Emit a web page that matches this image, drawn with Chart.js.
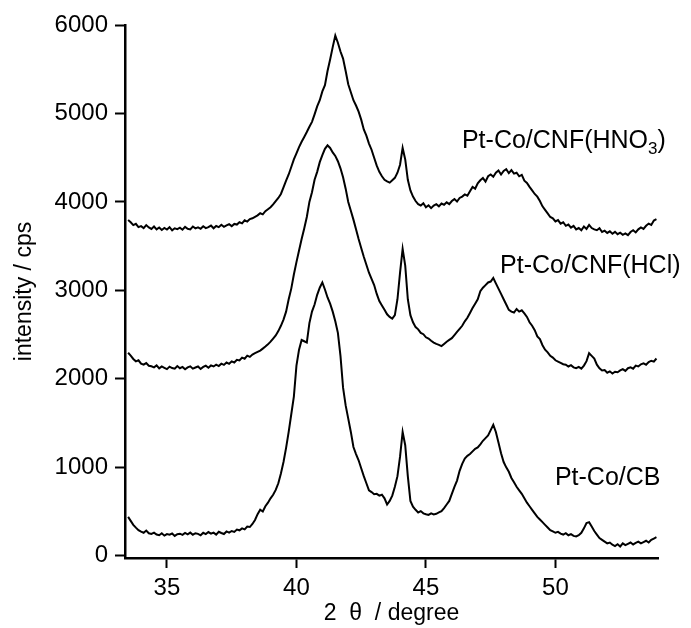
<!DOCTYPE html>
<html>
<head>
<meta charset="utf-8">
<title>XRD patterns</title>
<script src="https://cdn.jsdelivr.net/npm/chart.js@4/dist/chart.umd.min.js"></script>
<style>
  html, body { margin: 0; padding: 0; background: #fff; }
  #wrap { width: 691px; height: 628px; position: relative; }
</style>
</head>
<body>
<div id="wrap"><canvas id="xrd"></canvas></div>
<script>
// scan grid: 2θ from 33.5° upward in 0.1° steps
const THETA_START = 33.5;
const THETA_STEP = 0.1;

// intensity (cps), one row per degree
const hno3 = [
  3795, 3770, 3738, 3752, 3715, 3726, 3704, 3738, 3712, 3695,
  3722, 3690, 3711, 3683, 3706, 3688, 3714, 3679, 3702, 3693,
  3709, 3686, 3718, 3697, 3690, 3722, 3701, 3712, 3696, 3725,
  3704, 3716, 3733, 3702, 3728, 3715, 3742, 3719, 3736, 3748,
  3726, 3751, 3744, 3770, 3758, 3792, 3778, 3806, 3815, 3832,
  3848, 3872, 3860, 3895, 3918, 3940, 3972, 4010, 4045, 4090,
  4165, 4240, 4310, 4395, 4480, 4550, 4620, 4680, 4735, 4790,
  4850, 4905, 4990, 5080, 5150, 5250, 5320, 5480, 5610, 5750,
  5880, 5800, 5700, 5620, 5480, 5330, 5240, 5150, 5090, 5020,
  4930, 4820, 4750, 4660, 4590, 4500, 4410, 4340, 4290, 4250,
  4232, 4218, 4246, 4272, 4330, 4420, 4610, 4480, 4250, 4130,
  4060, 4010, 3975, 3960, 3985, 3940, 3962, 3930, 3958, 3975,
  3950, 3982, 3968, 3995, 3975, 4010, 4032, 4005, 4045, 4060,
  4085, 4070, 4120, 4170, 4150, 4210, 4245, 4270, 4230, 4290,
  4310, 4285, 4330, 4355, 4310, 4350, 4370, 4325, 4360, 4320,
  4330, 4290, 4305, 4240, 4215, 4170, 4130, 4090, 4060, 4010,
  3950, 3910, 3870, 3830, 3815, 3780, 3795, 3755, 3770, 3730,
  3745, 3710, 3730, 3690, 3705, 3680, 3722, 3695, 3740, 3705,
  3690, 3680, 3702, 3660, 3675, 3650, 3668, 3640, 3662, 3635,
  3652, 3628, 3645, 3625, 3660, 3680, 3655, 3690, 3712, 3695,
  3730, 3755, 3740, 3790, 3805
];

const hcl = [
  2295, 2262, 2225, 2198, 2210, 2172, 2160, 2178, 2148, 2142,
  2130, 2152, 2118, 2140, 2125, 2110, 2138, 2122, 2115, 2145,
  2120, 2135, 2108, 2130, 2142, 2115, 2128, 2140, 2112, 2135,
  2148, 2125, 2152, 2140, 2160, 2145, 2172, 2158, 2185, 2170,
  2198, 2185, 2215, 2208, 2240, 2228, 2262, 2248, 2275, 2290,
  2305, 2320, 2342, 2365, 2390, 2420, 2455, 2490, 2540, 2600,
  2670, 2760, 2900, 3020, 3180, 3320, 3450, 3580, 3700, 3830,
  4000, 4110, 4250, 4340, 4450, 4530, 4600, 4640, 4610, 4560,
  4520, 4460, 4380, 4280, 4150, 4000, 3900, 3800, 3690, 3580,
  3480, 3380, 3290, 3200, 3130, 3060, 2960, 2880, 2830, 2780,
  2730, 2700, 2680, 2720, 2900, 3200, 3470, 3280, 2900, 2720,
  2640, 2585, 2560, 2520, 2505, 2470, 2455, 2430, 2410, 2395,
  2385, 2370, 2395, 2420, 2440, 2460, 2495, 2530, 2565, 2600,
  2650, 2690, 2745, 2800, 2850, 2900, 2990, 3030, 3060, 3090,
  3100, 3140, 3080, 3020, 2960, 2900, 2840, 2780, 2760, 2750,
  2790, 2760, 2775, 2740, 2700, 2640, 2600, 2550, 2480, 2450,
  2380, 2330, 2300, 2260, 2240, 2210, 2195, 2180, 2165, 2160,
  2140, 2155, 2130, 2120, 2135, 2115, 2150, 2200, 2290, 2260,
  2230, 2160, 2120, 2095, 2100, 2070, 2085, 2060, 2080, 2075,
  2095, 2110, 2090, 2120, 2130, 2115, 2150, 2140, 2165, 2175,
  2160, 2190, 2205, 2195, 2230
];

const cb = [
  440, 395, 350, 318, 290, 272, 260, 285, 255, 248,
  262, 240, 232, 255, 228, 246, 238, 252, 225, 244,
  250, 236, 258, 242, 262, 238, 255, 248, 232, 260,
  245, 268, 250, 262, 240, 272, 258, 246, 275, 262,
  280, 270, 296, 288, 310, 298, 330, 325, 360, 405,
  470, 520, 500, 560, 600, 650, 690, 745, 820, 930,
  1060, 1220, 1400, 1600, 1800, 2150, 2330, 2440, 2425, 2410,
  2630, 2760, 2840, 2950, 3030, 3090, 3010, 2920, 2850, 2760,
  2650, 2520, 2260, 1900, 1700, 1550, 1400, 1230, 1150, 1080,
  990, 900, 820, 740, 720, 695, 700, 680, 690, 650,
  580, 620, 680, 780, 900, 1120, 1400, 1250, 900, 620,
  555, 520, 490, 505, 480, 470, 462, 480, 468, 475,
  490, 505, 540, 580, 620, 700, 780, 850, 960, 1040,
  1100, 1130, 1150, 1180, 1210, 1225, 1260, 1300, 1330, 1360,
  1420, 1480, 1400, 1280, 1160, 1060, 1000, 950, 880, 830,
  780, 740, 700, 650, 600, 560, 520, 480, 440, 410,
  380, 350, 320, 290, 275, 260, 270, 250, 240, 255,
  232, 245, 225, 218, 232, 260, 310, 370, 380, 330,
  280, 240, 200, 180, 160, 140, 150, 125, 110, 130,
  105, 140, 120, 135, 150, 128, 145, 160, 140, 155,
  170, 150, 180, 195, 210
];

const xTicks = [35, 40, 45, 50];
const yTicks = [0, 1000, 2000, 3000, 4000, 5000, 6000];

// sample names, split so the subscript can be drawn smaller
const sampleNames = [
  [{ t: "Pt-Co/CNF(HNO" }, { t: "3", sub: true }, { t: ")" }],
  [{ t: "Pt-Co/CNF(HCl)" }],
  [{ t: "Pt-Co/CB" }]
];
// where each name sits: left edge (2θ) and baseline (cps)
const nameAnchors = [
  { x: 46.39, y: 4610 },
  { x: 47.86, y: 3198 },
  { x: 49.98, y: 802 }
];

const FONT = "'Liberation Sans', Arial, Helvetica, sans-serif";

const toPoints = vals => vals.map((v, i) => ({
  x: +(THETA_START + i * THETA_STEP).toFixed(2),
  y: v
}));

const trace = vals => ({
  data: toPoints(vals),
  borderColor: "#000",
  borderWidth: 2,
  pointRadius: 0,
  tension: 0,
  fill: false
});

const sampleNamePlugin = {
  id: "sampleNames",
  afterDatasetsDraw(chart) {
    const { ctx, scales } = chart;
    ctx.save();
    ctx.fillStyle = "#000";
    ctx.textBaseline = "alphabetic";
    ctx.textAlign = "left";
    sampleNames.forEach((parts, k) => {
      let px = scales.x.getPixelForValue(nameAnchors[k].x);
      const py = scales.y.getPixelForValue(nameAnchors[k].y);
      parts.forEach(p => {
        ctx.font = (p.sub ? "17px " : "25px ") + FONT;
        ctx.fillText(p.t, px, p.sub ? py + 6 : py);
        px += ctx.measureText(p.t).width;
      });
    });
    ctx.restore();
  }
};

new Chart(document.getElementById("xrd"), {
  type: "line",
  data: { datasets: [trace(hno3), trace(hcl), trace(cb)] },
  plugins: [sampleNamePlugin],
  options: {
    responsive: true,
    maintainAspectRatio: false,
    animation: false,
    layout: { padding: { top: 25, right: 33, left: 0, bottom: 0 } },
    plugins: { legend: { display: false }, tooltip: { enabled: false } },
    scales: {
      x: {
        type: "linear",
        min: 33.38,
        max: 53.96,
        afterBuildTicks: s => { s.ticks = xTicks.map(v => ({ value: v })); },
        afterFit: s => { s.height = 70; },
        border: { display: true, color: "#000", width: 2.5 },
        grid: { drawOnChartArea: false, drawTicks: true, tickLength: 10, tickColor: "#000", tickWidth: 2 },
        ticks: { color: "#000", padding: 6, font: { family: FONT, size: 24 }, maxRotation: 0, callback: v => String(v) },
        title: { display: true, text: "2  θ  / degree", color: "#000", padding: { top: 0, bottom: 1 }, font: { family: FONT, size: 23 } }
      },
      y: {
        min: -25,
        max: 6000,
        afterBuildTicks: s => { s.ticks = yTicks.map(v => ({ value: v })); },
        afterFit: s => { s.width = 125; },
        border: { display: true, color: "#000", width: 2.5 },
        grid: { drawOnChartArea: false, drawTicks: true, tickLength: 10, tickColor: "#000", tickWidth: 2 },
        ticks: { color: "#000", padding: 7, font: { family: FONT, size: 24 }, callback: v => String(v) },
        title: { display: true, text: "intensity / cps", color: "#000", padding: { top: 11, bottom: 0 }, font: { family: FONT, size: 23 } }
      }
    }
  }
});
</script>
</body>
</html>
